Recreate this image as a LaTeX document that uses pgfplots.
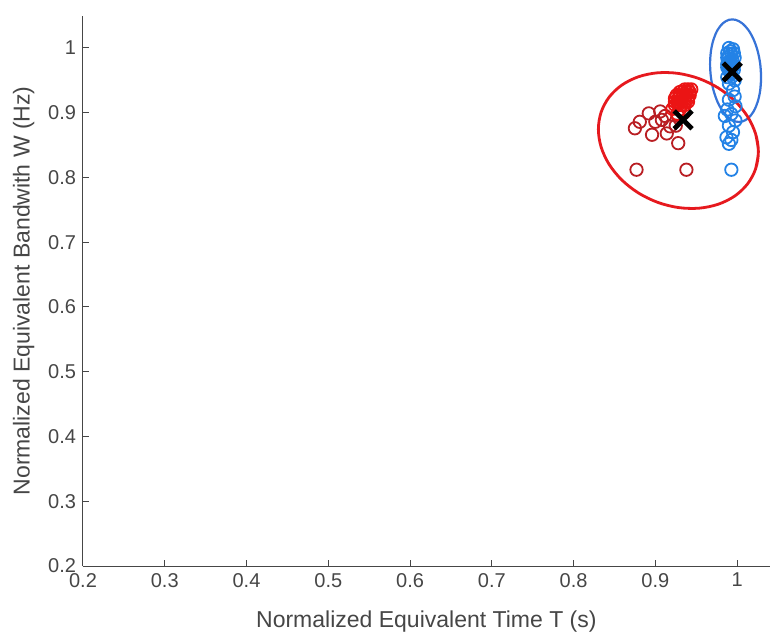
\documentclass[border=0pt]{standalone}
\usepackage{fontspec}
\setmainfont{Liberation Sans}
\usepackage{pgfplots}
\pgfplotsset{compat=1.18}
\definecolor{axgray}{RGB}{70,70,70}
\definecolor{redpt}{RGB}{185,30,35}
\definecolor{redden}{RGB}{235,20,20}
\definecolor{redell}{RGB}{230,25,30}
\definecolor{bluept}{RGB}{35,130,230}
\definecolor{blueell}{RGB}{55,115,215}
\begin{document}
\begin{tikzpicture}
\begin{axis}[
  scale only axis, width=343.4pt, height=275.2pt,
  xmin=0.2, xmax=1.04, ymin=0.2, ymax=1.05,
  axis x line*=bottom, axis y line*=left,
  axis line style={-, axgray, line width=0.5pt},
  xtick={0.2,0.3,0.4,0.5,0.6,0.7,0.8,0.9,1},
  ytick={0.2,0.3,0.4,0.5,0.6,0.7,0.8,0.9,1},
  xticklabels={0.2,0.3,0.4,0.5,0.6,0.7,0.8,0.9,1},
  yticklabels={0.2,0.3,0.4,0.5,0.6,0.7,0.8,0.9,1},
  tick align=inside, major tick length=3pt,
  tick style={axgray, line width=0.5pt},
  ticklabel style={font=\fontsize{10}{12}\selectfont, text=axgray},
  /pgf/number format/assume math mode=true,
  label style={font=\fontsize{11.5}{13}\selectfont, text=axgray},
  xlabel style={yshift=-5pt},
  xlabel={Normalized Equivalent Time T (s)},
  ylabel={Normalized Equivalent Bandwith W (Hz)},
  clip=false,
]
% red sparse points
\addplot[only marks, mark=o, mark size=3.1pt, redpt, mark options={line width=0.9pt}] coordinates {
(0.877,0.812) (0.938,0.812) (0.875,0.876) (0.881,0.886) (0.892,0.899) (0.896,0.866)
(0.906,0.902) (0.908,0.889) (0.914,0.868) (0.918,0.879) (0.928,0.853) (0.900,0.886)
(0.912,0.895) (0.925,0.880) (0.928,0.895)};
% red dense points
\addplot[only marks, mark=o, mark size=3.1pt, redden, mark options={line width=0.9pt}] coordinates {
(0.924,0.912) (0.928,0.912) (0.932,0.912) (0.936,0.912)
(0.924,0.917) (0.928,0.917) (0.932,0.917) (0.936,0.917) (0.940,0.917)
(0.924,0.922) (0.928,0.922) (0.932,0.922) (0.936,0.922) (0.940,0.922)
(0.926,0.927) (0.930,0.927) (0.934,0.927) (0.938,0.927) (0.942,0.927)
(0.930,0.932) (0.934,0.932) (0.938,0.932) (0.942,0.932)
(0.936,0.936) (0.940,0.936) (0.944,0.936)
(0.921,0.906) (0.930,0.905) (0.935,0.900) (0.927,0.898)};
% blue points
\addplot[only marks, mark=o, mark size=3.1pt, bluept, mark options={line width=0.9pt}] coordinates {
(0.990,1.000) (0.995,0.998) (0.993,0.990) (0.988,0.985) (0.997,0.985) (0.992,0.978)
(0.988,0.975) (0.996,0.972) (0.990,0.968) (0.993,0.960) (0.988,0.955) (0.997,0.950)
(0.990,0.945) (0.995,0.935) (0.997,0.925) (0.990,0.920) (0.998,0.910) (0.988,0.905)
(0.993,0.898) (0.985,0.895) (0.998,0.888) (0.990,0.880) (0.995,0.870) (0.987,0.862)
(0.993,0.858) (0.990,0.852) (0.993,0.812)
(0.992,0.995) (0.988,0.992) (0.996,0.992) (0.990,0.987) (0.994,0.982) (0.990,0.979)
(0.994,0.975) (0.988,0.970) (0.996,0.966) (0.991,0.963) (0.994,0.956)};
% blue ellipse
\addplot[blueell, line width=1.1pt, smooth, tension=0.55] coordinates {
(1.02830,0.97532) (1.02936,0.95464) (1.02830,0.93466) (1.02518,0.91675) (1.02023,0.90212)
(1.01377,0.89177) (1.00624,0.88640) (0.99817,0.88639) (0.99010,0.89174) (0.98257,0.90207)
(0.97611,0.91668) (0.97116,0.93459) (0.96804,0.95456) (0.96698,0.97524) (0.96804,0.99522)
(0.97116,1.01313) (0.97611,1.02776) (0.98257,1.03811) (0.99010,1.04348) (0.99817,1.04349)
(1.00624,1.03814) (1.01377,1.02781) (1.02023,1.01320) (1.02518,0.99529) (1.02830,0.97532)
(1.02936,0.95464) (1.02830,0.93466)};
% red ellipse
\addplot[redell, line width=1.4pt, smooth, tension=0.55] coordinates {
(1.02272,0.86716) (1.02606,0.83976) (1.02272,0.81356) (1.01295,0.79030) (0.99740,0.77161)
(0.97713,0.75876) (0.95353,0.75260) (0.92820,0.75357) (0.90287,0.76160) (0.87927,0.77614)
(0.85900,0.79619) (0.84345,0.82040) (0.83368,0.84712) (0.83034,0.87452) (0.83368,0.90072)
(0.84345,0.92398) (0.85900,0.94267) (0.87927,0.95552) (0.90287,0.96168) (0.92820,0.96071)
(0.95353,0.95268) (0.97713,0.93814) (0.99740,0.91809) (1.01295,0.89388) (1.02272,0.86716)
(1.02606,0.83976) (1.02272,0.81356)};
% centroids
\addplot[only marks, mark=x, mark size=6.3pt, black, mark options={line width=2.4pt}] coordinates {
(0.934,0.889) (0.994,0.963)};
\end{axis}
\pgfresetboundingbox
\path (-41.5pt,-36pt) rectangle (346pt,283pt);
\end{tikzpicture}
\end{document}
